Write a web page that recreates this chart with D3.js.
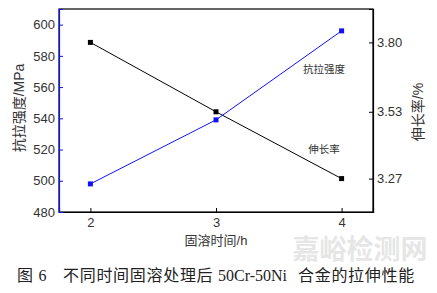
<!DOCTYPE html>
<html>
<head>
<meta charset="utf-8">
<script src="https://cdn.jsdelivr.net/npm/d3@7"></script>
<style>
  body { margin: 0; background: #fff; }
  svg { display: block; }
  text { font-family: "Liberation Sans", Arial, "Noto Sans CJK SC", sans-serif; }
</style>
</head>
<body>
<svg width="437" height="293"></svg>
<script>
// time in hours
var hours = [2, 3, 4];
// tensile strength, MPa (left axis)
var strength = [498, 539, 596];
// elongation, % (right axis)
var elongation = [3.80, 3.53, 3.27];
var leftTicks = [480, 500, 520, 540, 560, 580, 600];
var rightTicks = [3.27, 3.53, 3.80];
var xTicks = [2, 3, 4];

var svg = d3.select("svg"),
    plotLeft = 59, plotRight = 373, plotTop = 9, plotBottom = 212;

var x = d3.scaleLinear().domain([1.75, 4.25]).range([plotLeft, plotRight]);
var yL = d3.scaleLinear().domain([480, 610]).range([plotBottom, plotTop]);
var yR = d3.scaleLinear().domain([3.14, 3.93]).range([plotBottom, plotTop]);

var blue = "#1010ff";

// frame
svg.append("rect")
    .attr("x", plotLeft).attr("y", plotTop)
    .attr("width", plotRight - plotLeft).attr("height", plotBottom - plotTop)
    .attr("fill", "none").attr("stroke", "#000").attr("stroke-width", 1.2);

// left axis
var gl = svg.append("g").attr("transform", "translate(" + plotLeft + ",0)")
    .call(d3.axisRight(yL).tickValues(leftTicks).tickSize(4).tickFormat(d3.format("d")));
gl.select(".domain").attr("stroke", blue);
gl.selectAll(".tick line").attr("stroke", blue);
gl.selectAll(".tick text").attr("x", -4).attr("text-anchor", "end")
    .attr("font-size", 13).attr("fill", "#333");

// right axis
var gr = svg.append("g").attr("transform", "translate(" + plotRight + ",0)")
    .call(d3.axisLeft(yR).tickValues(rightTicks).tickSize(4).tickFormat(d3.format(".2f")));
gr.select(".domain").attr("stroke", "#000");
gr.selectAll(".tick text").attr("x", 4).attr("text-anchor", "start")
    .attr("font-size", 13).attr("fill", "#333");

// bottom axis
var gb = svg.append("g").attr("transform", "translate(0," + plotBottom + ")")
    .call(d3.axisTop(x).tickValues(xTicks).tickSize(4).tickFormat(d3.format("d")));
gb.select(".domain").attr("stroke", "#000");
gb.selectAll(".tick text").attr("y", 6).attr("dy", "0.71em")
    .attr("font-size", 13).attr("fill", "#333");

svg.selectAll(".domain").attr("stroke-width", 1.2);
gl.raise();

// lines
var lineL = d3.line().x(function(d, i) { return x(hours[i]); }).y(function(d) { return yL(d); });
var lineR = d3.line().x(function(d, i) { return x(hours[i]); }).y(function(d) { return yR(d); });

svg.append("path").datum(elongation).attr("d", lineR)
    .attr("fill", "none").attr("stroke", "#000").attr("stroke-width", 1);
svg.append("path").datum(strength).attr("d", lineL)
    .attr("fill", "none").attr("stroke", blue).attr("stroke-width", 1);

svg.selectAll(".mk-r").data(elongation).enter().append("rect")
    .attr("x", function(d, i) { return x(hours[i]) - 2.5; })
    .attr("y", function(d) { return yR(d) - 2.5; })
    .attr("width", 5).attr("height", 5).attr("fill", "#000");
svg.selectAll(".mk-l").data(strength).enter().append("rect")
    .attr("x", function(d, i) { return x(hours[i]) - 2.5; })
    .attr("y", function(d) { return yL(d) - 2.5; })
    .attr("width", 5).attr("height", 5).attr("fill", blue);

// annotations
svg.append("text").attr("x", 324).attr("y", 73).attr("text-anchor", "middle")
    .attr("font-size", 10.5).attr("fill", "#333").text("抗拉强度");
svg.append("text").attr("x", 324).attr("y", 153).attr("text-anchor", "middle")
    .attr("font-size", 10.5).attr("fill", "#333").text("伸长率");

// axis titles
svg.append("text").attr("transform", "translate(24,108) rotate(-90)")
    .attr("text-anchor", "middle").attr("font-size", 14).attr("fill", "#333")
    .text("抗拉强度/MPa");
svg.append("text").attr("transform", "translate(423,112) rotate(-90)")
    .attr("text-anchor", "middle").attr("font-size", 14).attr("fill", "#333")
    .text("伸长率/%");
svg.append("text").attr("x", 216).attr("y", 245).attr("text-anchor", "middle")
    .attr("font-size", 13).attr("fill", "#333").text("固溶时间/h");

// watermark
svg.append("text").attr("x", 360).attr("y", 259).attr("text-anchor", "middle")
    .attr("font-size", 27).attr("font-weight", "bold").attr("fill", "#e6e6e6")
    .style("font-family", "'Noto Sans CJK SC', sans-serif").text("嘉峪检测网");

// caption
var cap = svg.append("text").attr("y", 281)
    .attr("font-size", 16).attr("fill", "#222")
    .style("font-family", "'Liberation Serif', 'Noto Sans CJK SC', serif")
    .style("letter-spacing", "0.7px");
cap.append("tspan").attr("x", 17).text("图 6");
cap.append("tspan").attr("x", 63).text("不同时间固溶处理后");
cap.append("tspan").attr("x", 218).style("letter-spacing", "0px").text("50Cr-50Ni");
cap.append("tspan").attr("x", 298).text("合金的拉伸性能");
</script>
</body>
</html>
